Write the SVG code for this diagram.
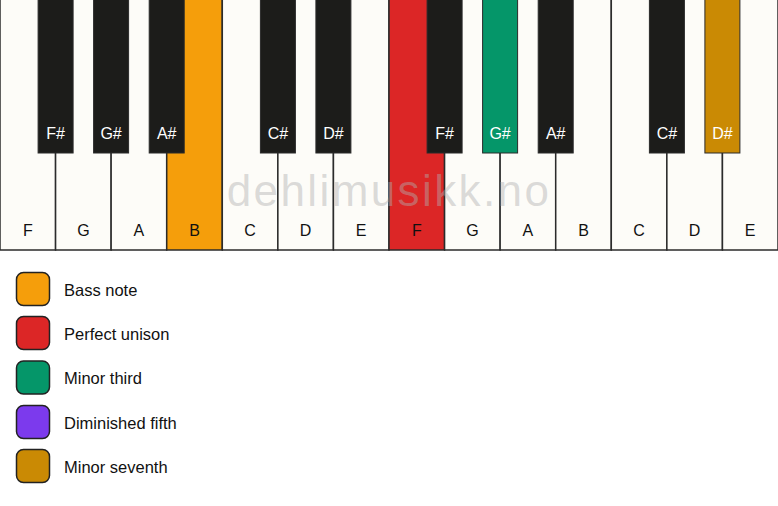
<svg xmlns="http://www.w3.org/2000/svg" width="778" height="506" viewBox="0 0 778 506">
<style>
.w{fill:#fdfcf8;stroke:#2b2b2b;stroke-width:1.5}
.b{fill:#1c1c1a;stroke:#2b2b2b;stroke-width:1}
.wl{font-family:"Liberation Sans",Arial,sans-serif;font-size:16px;fill:#111;text-anchor:middle}
.bl{font-family:"Liberation Sans",Arial,sans-serif;font-size:16px;fill:#fff;text-anchor:middle}
.lg{stroke:#222;stroke-width:1.5}
.lt{font-family:"Liberation Sans",Arial,sans-serif;font-size:16.5px;fill:#111}
</style>
<rect width="778" height="506" fill="#ffffff"/>
<g id="white-keys">
<g id="w-F1"><rect class="w" x="0" y="-2" width="55.57" height="252"/><text class="wl" x="27.8" y="236">F</text></g>
<g id="w-G1"><rect class="w" x="55.57" y="-2" width="55.57" height="252"/><text class="wl" x="83.4" y="236">G</text></g>
<g id="w-A1"><rect class="w" x="111.14" y="-2" width="55.57" height="252"/><text class="wl" x="138.9" y="236">A</text></g>
<g id="w-B1"><rect class="w" x="166.71" y="-2" width="55.57" height="252" style="fill:#f59e0b"/><text class="wl" x="194.5" y="236">B</text></g>
<g id="w-C1"><rect class="w" x="222.29" y="-2" width="55.57" height="252"/><text class="wl" x="250.1" y="236">C</text></g>
<g id="w-D1"><rect class="w" x="277.86" y="-2" width="55.57" height="252"/><text class="wl" x="305.6" y="236">D</text></g>
<g id="w-E1"><rect class="w" x="333.43" y="-2" width="55.57" height="252"/><text class="wl" x="361.2" y="236">E</text></g>
<g id="w-F2"><rect class="w" x="389" y="-2" width="55.57" height="252" style="fill:#dc2626"/><text class="wl" x="416.8" y="236">F</text></g>
<g id="w-G2"><rect class="w" x="444.57" y="-2" width="55.57" height="252"/><text class="wl" x="472.4" y="236">G</text></g>
<g id="w-A2"><rect class="w" x="500.14" y="-2" width="55.57" height="252"/><text class="wl" x="527.9" y="236">A</text></g>
<g id="w-B2"><rect class="w" x="555.71" y="-2" width="55.57" height="252"/><text class="wl" x="583.5" y="236">B</text></g>
<g id="w-C2"><rect class="w" x="611.29" y="-2" width="55.57" height="252"/><text class="wl" x="639.1" y="236">C</text></g>
<g id="w-D2"><rect class="w" x="666.86" y="-2" width="55.57" height="252"/><text class="wl" x="694.6" y="236">D</text></g>
<g id="w-E2"><rect class="w" x="722.43" y="-2" width="55.57" height="252"/><text class="wl" x="750.2" y="236">E</text></g>
</g>
<text x="389" y="206" font-family="'Liberation Sans',Arial,sans-serif" font-size="44" letter-spacing="2.4" text-anchor="middle" fill="#b0b0b0" fill-opacity="0.45">dehlimusikk.no</text>
<g id="black-keys">
<g id="b-Fs1"><rect class="b" x="38.1" y="-2" width="35" height="155"/><text class="bl" x="55.6" y="139">F#</text></g>
<g id="b-Gs1"><rect class="b" x="93.6" y="-2" width="35" height="155"/><text class="bl" x="111.1" y="139">G#</text></g>
<g id="b-As1"><rect class="b" x="149.2" y="-2" width="35" height="155"/><text class="bl" x="166.7" y="139">A#</text></g>
<g id="b-Cs1"><rect class="b" x="260.4" y="-2" width="35" height="155"/><text class="bl" x="277.9" y="139">C#</text></g>
<g id="b-Ds1"><rect class="b" x="315.9" y="-2" width="35" height="155"/><text class="bl" x="333.4" y="139">D#</text></g>
<g id="b-Fs2"><rect class="b" x="427.1" y="-2" width="35" height="155"/><text class="bl" x="444.6" y="139">F#</text></g>
<g id="b-Gs2"><rect class="b" x="482.6" y="-2" width="35" height="155" style="fill:#059669"/><text class="bl" x="500.1" y="139">G#</text></g>
<g id="b-As2"><rect class="b" x="538.2" y="-2" width="35" height="155"/><text class="bl" x="555.7" y="139">A#</text></g>
<g id="b-Cs2"><rect class="b" x="649.4" y="-2" width="35" height="155"/><text class="bl" x="666.9" y="139">C#</text></g>
<g id="b-Ds2"><rect class="b" x="704.9" y="-2" width="35" height="155" style="fill:#ca8a04"/><text class="bl" x="722.4" y="139">D#</text></g>
</g>
<g id="legend">
<g id="lg-bass"><rect class="lg" x="16.5" y="272.5" width="33" height="33" rx="7" fill="#f59e0b"/><text class="lt" x="64" y="295.5">Bass note</text></g>
<g id="lg-unison"><rect class="lg" x="16.5" y="316.5" width="33" height="33" rx="7" fill="#dc2626"/><text class="lt" x="64" y="339.5">Perfect unison</text></g>
<g id="lg-third"><rect class="lg" x="16.5" y="361" width="33" height="33" rx="7" fill="#059669"/><text class="lt" x="64" y="384">Minor third</text></g>
<g id="lg-fifth"><rect class="lg" x="16.5" y="405.5" width="33" height="33" rx="7" fill="#7c3aed"/><text class="lt" x="64" y="428.5">Diminished fifth</text></g>
<g id="lg-seventh"><rect class="lg" x="16.5" y="449.5" width="33" height="33" rx="7" fill="#ca8a04"/><text class="lt" x="64" y="472.5">Minor seventh</text></g>
</g>
</svg>
